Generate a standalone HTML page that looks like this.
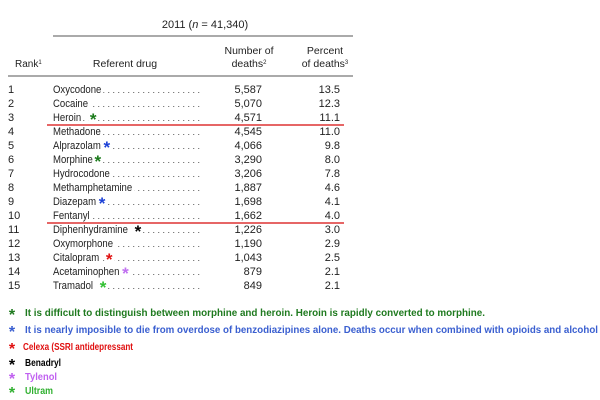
<!DOCTYPE html>
<html><head><meta charset="utf-8"><style>
html,body{margin:0;padding:0;background:#fff;}
svg{display:block;font-family:"Liberation Sans",sans-serif;}
</style></head><body>
<svg id="chart" width="600" height="400" viewBox="0 0 600 400">
<text x="205" y="28" font-size="11" text-anchor="middle" fill="#222">2011 (<tspan font-style="italic">n</tspan> = 41,340)</text>
<line x1="53" y1="36" x2="353" y2="36" stroke="#777" stroke-width="1.2"/>
<text x="15" y="67" font-size="10" fill="#222">Rank<tspan font-size="6" dy="-3">1</tspan></text>
<text x="125" y="67" font-size="10.5" text-anchor="middle" fill="#222">Referent drug</text>
<text x="249" y="54" font-size="10.5" text-anchor="middle" fill="#222">Number of</text>
<text x="249" y="67" font-size="10.5" text-anchor="middle" fill="#222">deaths<tspan font-size="6" dy="-3">2</tspan></text>
<text x="325" y="54" font-size="10.5" text-anchor="middle" fill="#222">Percent</text>
<text x="325" y="67" font-size="10.5" text-anchor="middle" fill="#222">of deaths<tspan font-size="6" dy="-3">3</tspan></text>
<line x1="8" y1="76" x2="353" y2="76" stroke="#777" stroke-width="1.2"/>
<g id="rows"></g>
<line x1="47" y1="125" x2="344" y2="125" stroke="#d33" stroke-width="1.5"/>
<line x1="47" y1="223" x2="344" y2="223" stroke="#d33" stroke-width="1.5"/>
<g id="notes"></g>
</svg>
<script>
const drugs=["Oxycodone","Cocaine","Heroin","Methadone","Alprazolam","Morphine","Hydrocodone","Methamphetamine","Diazepam","Fentanyl","Diphenhydramine","Oxymorphone","Citalopram","Acetaminophen","Tramadol"];
const deaths=["5,587","5,070","4,571","4,545","4,066","3,290","3,206","1,887","1,698","1,662","1,226","1,190","1,043","879","849"];
const percents=["13.5","12.3","11.1","11.0","9.8","8.0","7.8","4.6","4.1","4.0","3.0","2.9","2.5","2.1","2.1"];
const marks=[null,null,["#1a7a1a",12],null,["#1a3fd6",6],["#1a7a1a",5],null,null,["#1a3fd6",6],null,["#000",10],null,["#e01010",10],["#c070f0",6],["#30c030",10]];
const noteColors=["#1f7a1f","#3a5fd0","#e01010","#000","#c060f0","#30b030"];
const noteTexts=["It is difficult to distinguish between morphine and heroin. Heroin is rapidly converted to morphine.","It is nearly imposible to die from overdose of benzodiazipines alone. Deaths occur when combined with opioids and alcohol","Celexa (SSRI antidepressant","Benadryl","Tylenol","Ultram"];
const noteLens=[460,573,110,36,32,28];
const ns="http://www.w3.org/2000/svg";
const rows=document.getElementById('rows');
const SX=0.87;
function t(parent,x,y,s,attrs){const e=document.createElementNS(ns,'text');e.setAttribute('x',x);e.setAttribute('y',y);for(const k in attrs)e.setAttribute(k,attrs[k]);e.textContent=s;parent.appendChild(e);return e;}
drugs.forEach((d,i)=>{
  const y=93+i*14;
  const g=document.createElementNS(ns,'g');
  
  
  rows.appendChild(g);
  const r=t(g,8,y,String(i+1),{'font-size':'11',fill:'#222'});
  
  
  const dots=t(g,200,y,'. . . . . . . . . . . . . . . . . . . . . . . . .',{'font-size':'9',fill:'#444','text-anchor':'end'});
  
  
  const bg=document.createElementNS(ns,'rect');
  g.appendChild(bg);
  const n=t(g,0,0,d,{'font-size':'11',fill:'#222',transform:'translate(53,'+y+') scale('+SX+',1)'});
  
  
  const w=n.getComputedTextLength()*SX;
  bg.setAttribute('x',53);bg.setAttribute('y',y-10);bg.setAttribute('width',w+2);bg.setAttribute('height',13);bg.setAttribute('fill','#fff');
  const c=t(g,262,y,deaths[i],{'font-size':'11',fill:'#222','text-anchor':'end'});
  
  
  const p=t(g,340,y,percents[i],{'font-size':'11',fill:'#222','text-anchor':'end'});
  
  
  if(marks[i]){
    const mb=document.createElementNS(ns,'rect');
    const ax=53+w+marks[i][1];
    mb.setAttribute('x',ax-5);mb.setAttribute('y',y-10);mb.setAttribute('width',10);mb.setAttribute('height',12);mb.setAttribute('fill','#fff');
    g.appendChild(mb);
    const a=t(g,ax,y+4,'*',{'font-size':'17','font-weight':'bold',fill:marks[i][0],'text-anchor':'middle'});
    
    }
});
const notes=document.getElementById('notes');
const noteY=[316,333,350,366,380,394];
noteTexts.forEach((s,i)=>{
  const a=t(notes,12,noteY[i]+4,'*',{'font-size':'16','font-weight':'bold',fill:noteColors[i],'text-anchor':'middle'});
  
  
  const x=i==2?23:25;
  const e=t(notes,x,noteY[i],s,{'font-size':'10','font-weight':'bold',fill:noteColors[i],textLength:noteLens[i],lengthAdjust:'spacingAndGlyphs'});
  
  
});
</script>
</body></html>
